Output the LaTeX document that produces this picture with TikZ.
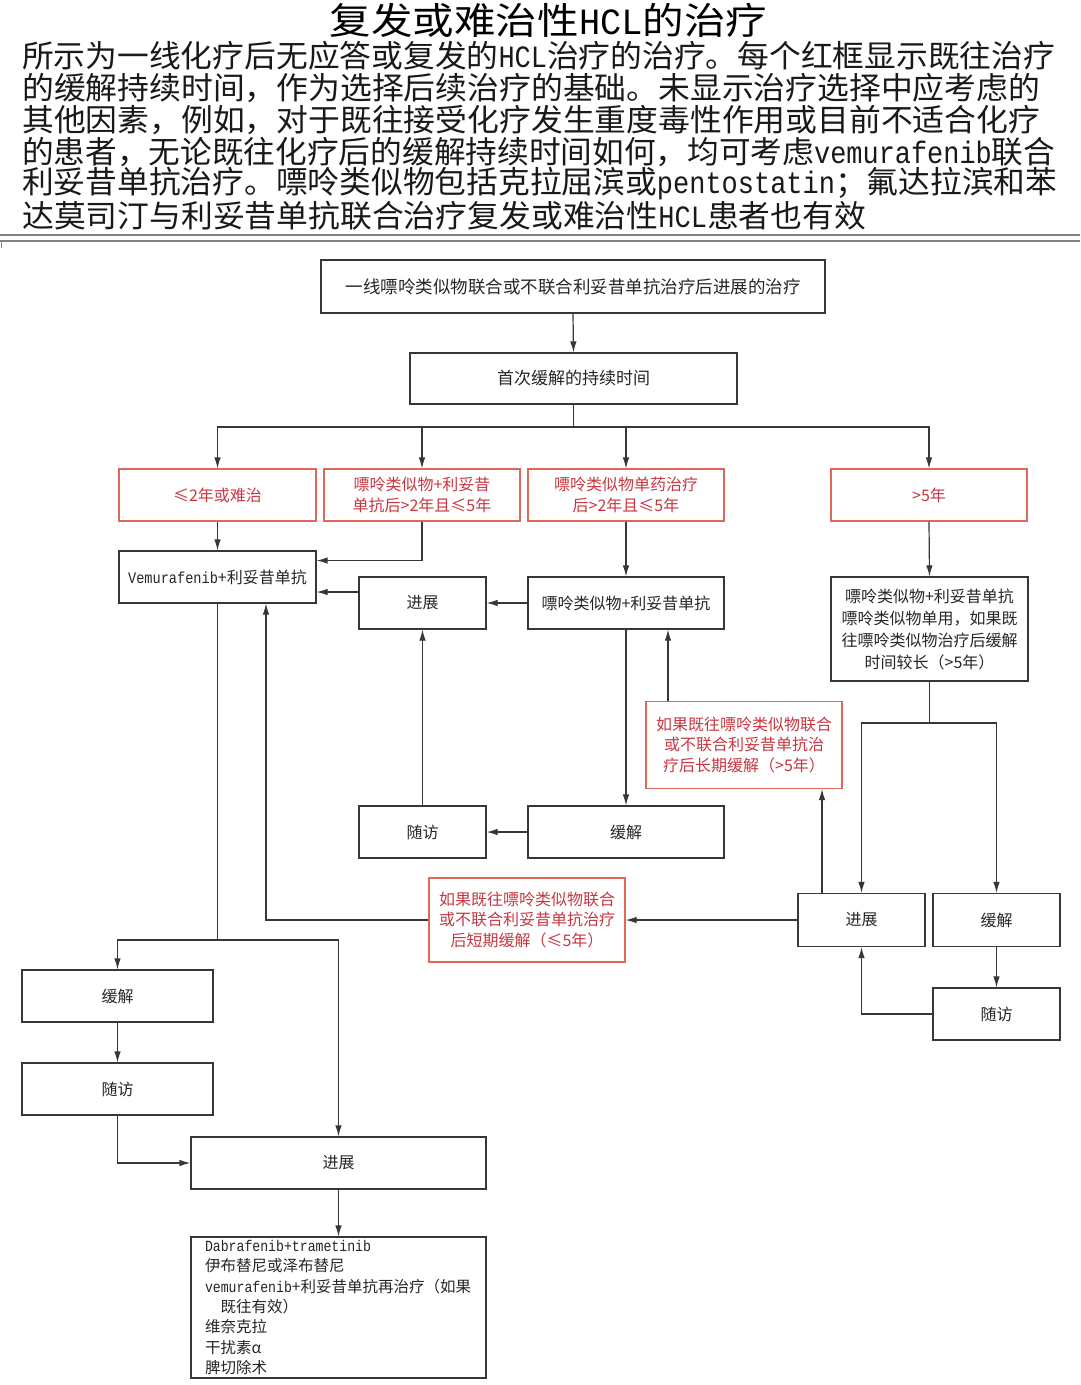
\documentclass[tikz,border=0pt]{standalone}
\usepackage{fontspec}
\usepackage{graphicx}
\setmainfont{Noto Sans CJK SC}
\newfontfamily\lat{Liberation Mono}[FakeStretch=0.85]
\usetikzlibrary{arrows.meta,calc}
\definecolor{ln}{RGB}{55,55,55}
\definecolor{redt}{RGB}{200,55,65}
\definecolor{redb}{RGB}{222,105,90}
\definecolor{sep}{RGB}{130,130,130}
\tikzset{
  box/.style={draw=ln, line width=1.2pt, inner sep=0pt, align=center, text=black!85,
    font=\fontsize{16}{22}\selectfont},
  rbox/.style={box, draw=redb, text=redt},
  conn/.style={draw=ln, line width=1.2pt, -{Latex[length=11pt,width=6.5pt]}},
  plain/.style={draw=ln, line width=1.2pt},
  para/.style={anchor=west, inner sep=0pt, font=\fontsize{31}{33}\selectfont, text=black!90}
}
\begin{document}
\begin{tikzpicture}[x=1pt,y=-1pt]
\useasboundingbox[fill=white] (0,0) rectangle (1080,1385);
% title and paragraph
\node[inner sep=0pt, font=\fontsize{37}{40}\selectfont] (title) at (548.5,20) {\resizebox{437pt}{\height}{复发或难治性{\lat HCL}的治疗}};
\node[para] (p1) at (22,56) {\resizebox{1033pt}{\height}{所示为一线化疗后无应答或复发的{\lat HCL}治疗的治疗。每个红框显示既往治疗}};
\node[para] (p2) at (22,88) {\resizebox{1018pt}{\height}{的缓解持续时间，作为选择后续治疗的基础。未显示治疗选择中应考虑的}};
\node[para] (p3) at (22,120) {\resizebox{1018pt}{\height}{其他因素，例如，对于既往接受化疗发生重度毒性作用或目前不适合化疗}};
\node[para] (p4) at (22,152) {\resizebox{1033pt}{\height}{的患者，无论既往化疗后的缓解持续时间如何，均可考虑{\lat vemurafenib}联合}};
\node[para] (p5) at (22,184) {\resizebox{1035pt}{\height}{利妥昔单抗治疗。嘌呤类似物包括克拉屈滨或{\lat pentostatin}；氟达拉滨和苯}};
\node[para] (p6) at (22,216) {\resizebox{844pt}{\height}{达莫司汀与利妥昔单抗联合治疗复发或难治性{\lat HCL}患者也有效}};
% separator
\coordinate (s1) at (0,235);
\coordinate (s2) at (1080,235);
\coordinate (s3) at (0,241);
\coordinate (s4) at (1080,241);
\coordinate (s5) at (1.5,248);
\draw[sep, line width=1.5pt] (s1) -- (s2);
\draw[sep, line width=1.2pt] (s3) -- (s4);
\draw[sep, line width=1.2pt] ([xshift=1.5pt]s3) -- (s5);
% boxes
\node[box, minimum width=504pt, minimum height=53pt, font=\fontsize{17.5}{22}\selectfont] (top) at (573,286.5) {一线嘌呤类似物联合或不联合利妥昔单抗治疗后进展的治疗};
\node[box, minimum width=327pt, minimum height=51pt, font=\fontsize{17}{22}\selectfont] (dur) at (573.5,378.5) {首次缓解的持续时间};
\node[rbox, minimum width=197pt, minimum height=52pt] (R1) at (217.5,495) {≤2年或难治};
\node[rbox, minimum width=196pt, minimum height=52pt, font=\fontsize{16}{21}\selectfont] (R2) at (422,495) {嘌呤类似物+利妥昔\\单抗后>2年且≤5年};
\node[rbox, minimum width=196pt, minimum height=52pt, font=\fontsize{16}{21}\selectfont] (R3) at (626,495) {嘌呤类似物单药治疗\\后>2年且≤5年};
\node[rbox, minimum width=196pt, minimum height=52pt] (R4) at (929,495) {>5年};
\node[box, minimum width=197pt, minimum height=52pt] (V) at (217.5,577) {{\lat Vemurafenib}+利妥昔单抗};
\node[box, minimum width=127pt, minimum height=52pt] (jz1) at (422.5,603) {进展};
\node[box, minimum width=196pt, minimum height=52pt] (pr) at (626,603) {嘌呤类似物+利妥昔单抗};
\node[box, minimum width=197pt, minimum height=104pt] (rt) at (929.5,629) {嘌呤类似物+利妥昔单抗\\嘌呤类似物单用，如果既\\往嘌呤类似物治疗后缓解\\时间较长（>5年）};
\node[rbox, minimum width=196pt, minimum height=87pt, font=\fontsize{16}{20.5}\selectfont] (rl) at (744,745) {如果既往嘌呤类似物联合\\或不联合利妥昔单抗治\\疗后长期缓解（>5年）};
\node[box, minimum width=127pt, minimum height=52pt] (sf1) at (422.5,832) {随访};
\node[box, minimum width=196pt, minimum height=52pt] (hj1) at (626,832) {缓解};
\node[rbox, minimum width=196pt, minimum height=84pt, font=\fontsize{16}{20.5}\selectfont] (rs) at (527,920) {如果既往嘌呤类似物联合\\或不联合利妥昔单抗治疗\\后短期缓解（≤5年）};
\node[box, minimum width=127pt, minimum height=53pt] (jz2) at (861.5,920) {进展};
\node[box, minimum width=127pt, minimum height=53pt] (hj2) at (996.5,920) {缓解};
\node[box, minimum width=127pt, minimum height=52pt] (sf2) at (996.5,1014) {随访};
\node[box, minimum width=191pt, minimum height=52pt] (hj3) at (117.5,996) {缓解};
\node[box, minimum width=191pt, minimum height=52pt] (sf3) at (117.5,1089) {随访};
\node[box, minimum width=295pt, minimum height=52pt] (jz3) at (338.5,1163) {进展};
\node[box, minimum width=295pt, minimum height=141pt, align=left, text width=279pt, inner xsep=8pt,
  font=\fontsize{15.5}{20.3}\selectfont] (list) at (338.5,1307.5)
  {\hspace*{6pt}{\lat Dabrafenib+trametinib}\\\hspace*{6pt}伊布替尼或泽布替尼\\\hspace*{6pt}{\lat vemurafenib}+利妥昔单抗再治疗（如果\\\hspace*{21.5pt}既往有效）\\\hspace*{6pt}维奈克拉\\\hspace*{6pt}干扰素α\\\hspace*{6pt}脾切除术};
% connectors
\coordinate (br) at (573.5,427);
\coordinate (br2) at (929.5,723);
\coordinate (br3) at (217.5,940);
\coordinate (a1) at ($(V.north east)!0.19!(V.south east)$);
\coordinate (a2) at ([yshift=11pt]jz1.west);
\coordinate (b1) at ([xshift=-76pt]rl.north);
\coordinate (b2) at ([xshift=78pt]rl.south);
\coordinate (b3) at ([xshift=48.5pt]V.south);
\draw[conn] (top.south) -- (dur.north);
\draw[plain] (dur.south) -- (br);
\draw[conn] (br) -| (R1.north);
\draw[conn] (br) -| (R2.north);
\draw[conn] (br) -| (R3.north);
\draw[conn] (br) -| (R4.north);
\draw[conn] (R1.south) -- (V.north);
\draw[conn] (R2.south) |- (a1);
\draw[conn] (a2) -- (a2 -| V.east);
\draw[conn] (pr.west) -- (jz1.east);
\draw[conn] (R3.south) -- (pr.north);
\draw[conn] (R4.south) -- (rt.north);
\draw[conn] (pr.south) -- (hj1.north);
\draw[conn] (hj1.west) -- (sf1.east);
\draw[conn] (sf1.north) -- (jz1.south);
\draw[conn] (b1) -- (b1 |- pr.south);
\draw[conn] (b2 |- jz2.north) -- (b2);
\draw[plain] (rt.south) -- (br2);
\draw[conn] (br2) -| (jz2.north);
\draw[conn] (br2) -| (hj2.north);
\draw[conn] (hj2.south) -- (sf2.north);
\draw[conn] (sf2.west) -| (jz2.south);
\draw[conn] (jz2.west) -- (rs.east);
\draw[conn] (rs.west) -| (b3);
\draw[plain] (V.south) -- (br3);
\draw[conn] (br3) -| (hj3.north);
\draw[conn] (br3) -| (jz3.north);
\draw[conn] (hj3.south) -- (sf3.north);
\draw[conn] (sf3.south) |- (jz3.west);
\draw[conn] (jz3.south) -- (list.north);
\end{tikzpicture}
\end{document}
